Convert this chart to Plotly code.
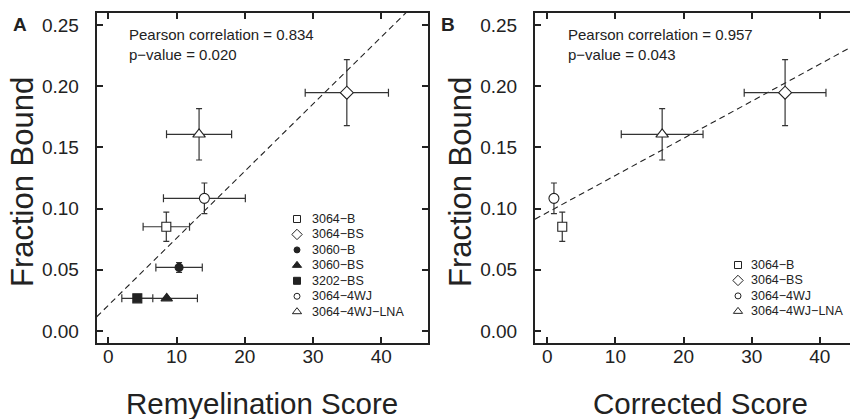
import plotly.graph_objects as go

# ---------------- data ----------------
# Panel A : Remyelination score vs fraction bound
a_names = ["3064−B", "3064−BS", "3060−B", "3060−BS", "3202−BS", "3064−4WJ", "3064−4WJ−LNA"]
a_x     = [8.5, 34.95, 10.37, 8.56, 4.25, 14.08, 13.3]
a_xerr  = [3.4, 6.1, 3.4, 4.5, 2.27, 6.0, 4.77]
a_y     = [0.0852, 0.1947, 0.052, 0.0267, 0.0267, 0.1084, 0.1607]
a_yerr  = [0.012, 0.027, 0.004, 0.0, 0.0, 0.0125, 0.021]
a_fit_intercept, a_fit_slope = 0.021, 0.00548
a_stats = "Pearson correlation = 0.834<br>p−value = 0.020"

# Panel B : Corrected score vs fraction bound
b_names = ["3064−B", "3064−BS", "3064−4WJ", "3064−4WJ−LNA"]
b_x     = [2.2, 34.9, 0.98, 16.86]
b_xerr  = [0.4, 6.0, 0.0, 6.0]
b_y     = [0.0852, 0.1947, 0.1084, 0.1607]
b_yerr  = [0.012, 0.027, 0.0125, 0.021]
b_fit_intercept, b_fit_slope = 0.0968, 0.00303
b_stats = "Pearson correlation = 0.957<br>p−value = 0.043"

y_ticks = [0.00, 0.05, 0.10, 0.15, 0.20, 0.25]
y_tick_labels = ["0.00", "0.05", "0.10", "0.15", "0.20", "0.25"]
x_ticks = [0, 10, 20, 30, 40]

# ---------------- styles ----------------
OFF = 8                      # page body margin of the viewer
W, H = 858 - OFF, 419 - OFF  # figure size that fits the visible window
FONT = "Liberation Sans, Arial, Helvetica, sans-serif"
INK = "#222222"
styles = {
    "3064−B":       dict(symbol="square",        fill="white", size=9,  lsize=7),
    "3064−BS":      dict(symbol="diamond",       fill="white", size=10, lsize=8),
    "3060−B":       dict(symbol="circle",        fill=INK,     size=8,  lsize=6),
    "3060−BS":      dict(symbol="triangle-up",   fill=INK,     size=10, lsize=8),
    "3202−BS":      dict(symbol="square",        fill=INK,     size=9,  lsize=7),
    "3064−4WJ":     dict(symbol="circle",        fill="white", size=10, lsize=6),
    "3064−4WJ−LNA": dict(symbol="triangle-up",   fill="white", size=11, lsize=8),
}

A_RANGE_X = [-1.7, 46.8]
B_RANGE_X = [-1.8, 45.6]
RANGE_Y = [-0.01, 0.26]

def px_x(p):
    return (p - OFF) / W

def px_y(p):
    return 1 - (p - OFF) / H

fig = go.Figure()

def add_panel(names, xs, xerr, ys, yerr, intercept, slope, xrng, xa, ya):
    fx = list(xrng)
    fy = [intercept + slope * v for v in fx]
    fig.add_trace(go.Scatter(x=fx, y=fy, mode="lines", xaxis=xa, yaxis=ya,
                             line=dict(color=INK, width=1.1, dash="6px,4px"),
                             showlegend=False, hoverinfo="skip"))
    for n, x, ex, y, ey in zip(names, xs, xerr, ys, yerr):
        st = styles[n]
        fig.add_trace(go.Scatter(
            x=[x], y=[y], mode="markers", name=n, xaxis=xa, yaxis=ya,
            showlegend=False,
            error_x=dict(type="data", array=[ex], visible=ex > 0, color="#333333",
                         thickness=1.2, width=4),
            error_y=dict(type="data", array=[ey], visible=ey > 0, color="#333333",
                         thickness=1.2, width=3),
            marker=dict(symbol=st["symbol"], size=st["size"], color=st["fill"],
                        line=dict(color=INK, width=1.1)),
        ))

add_panel(a_names, a_x, a_xerr, a_y, a_yerr, a_fit_intercept, a_fit_slope, A_RANGE_X, "x", "y")
add_panel(b_names, b_x, b_xerr, b_y, b_yerr, b_fit_intercept, b_fit_slope, B_RANGE_X, "x2", "y2")

# ---------------- custom legends (overlay pixel axes, reference pixel units) ----------------
LEG_ROW = 15.45
legends = [
    (a_names, 297.0, 310.0, 219.0),
    (b_names, 738.0, 749.0, 265.0),
]
annotations = []
for names, sx, tx, y0 in legends:
    for i, n in enumerate(names):
        st = styles[n]
        yy = y0 + i * LEG_ROW
        fig.add_trace(go.Scatter(
            x=[sx], y=[yy], mode="markers", xaxis="x3", yaxis="y3", showlegend=False,
            hoverinfo="skip",
            marker=dict(symbol=st["symbol"], size=st["lsize"], color=st["fill"],
                        line=dict(color=INK, width=1)),
        ))
        annotations.append(dict(x=tx, y=yy, xref="x3", yref="y3", text=n, showarrow=False,
                                xanchor="left", yanchor="middle",
                                font=dict(family=FONT, size=12.5, color=INK)))

def note(x, y, text, size, xanchor="center", yanchor="middle", bold=False, angle=0, align="center"):
    annotations.append(dict(x=px_x(x), y=px_y(y), xref="paper", yref="paper",
                            text=f"<b>{text}</b>" if bold else text, showarrow=False,
                            xanchor=xanchor, yanchor=yanchor, align=align, textangle=angle,
                            font=dict(family=FONT, size=size, color=INK)))

# stats text
note(127, 24, a_stats, 15, xanchor="left", yanchor="top", align="left")
note(566, 24, b_stats, 15, xanchor="left", yanchor="top", align="left")
# panel letters
note(20, 25, "A", 19, bold=True)
note(448, 25, "B", 19, bold=True)
# axis titles
note(262, 403, "Remyelination Score", 29.5)
note(700, 403, "Corrected Score", 29.5)
note(22.5, 182.5, "Fraction Bound", 31, angle=-90)
note(460.5, 182.5, "Fraction Bound", 31, angle=-90)

common_ax = dict(showgrid=False, zeroline=False, showline=True, linecolor=INK, linewidth=2,
                 ticks="inside", ticklen=6, tickwidth=1.5, tickcolor=INK,
                 tickfont=dict(family=FONT, size=19, color=INK))

fig.update_layout(
    width=W, height=H,
    margin=dict(l=0, r=0, t=0, b=0),
    paper_bgcolor="white", plot_bgcolor="rgba(0,0,0,0)",
    showlegend=False,
    xaxis=dict(domain=[px_x(96.7), px_x(427.7)], range=A_RANGE_X, tickvals=x_ticks,
               mirror="ticks", anchor="y", ticklabelstandoff=-5, **common_ax),
    yaxis=dict(domain=[px_y(343.3), px_y(12.7)], range=RANGE_Y, tickvals=y_ticks,
               ticktext=y_tick_labels, mirror="ticks", anchor="x", ticklabelstandoff=12,
               **common_ax),
    xaxis2=dict(domain=[px_x(535), 1.0], range=B_RANGE_X, tickvals=x_ticks,
                mirror="ticks", anchor="y2", ticklabelstandoff=-5, **common_ax),
    yaxis2=dict(domain=[px_y(343.3), px_y(12.7)], range=RANGE_Y, tickvals=y_ticks,
                ticktext=y_tick_labels, mirror=False, anchor="x2", ticklabelstandoff=12,
                **common_ax),
    xaxis3=dict(domain=[0, 1], range=[OFF, OFF + W], visible=False, anchor="y3", fixedrange=True),
    yaxis3=dict(domain=[0, 1], range=[OFF + H, OFF], visible=False, anchor="x3", fixedrange=True),
    annotations=annotations,
)

fig.write_html("out.html")
